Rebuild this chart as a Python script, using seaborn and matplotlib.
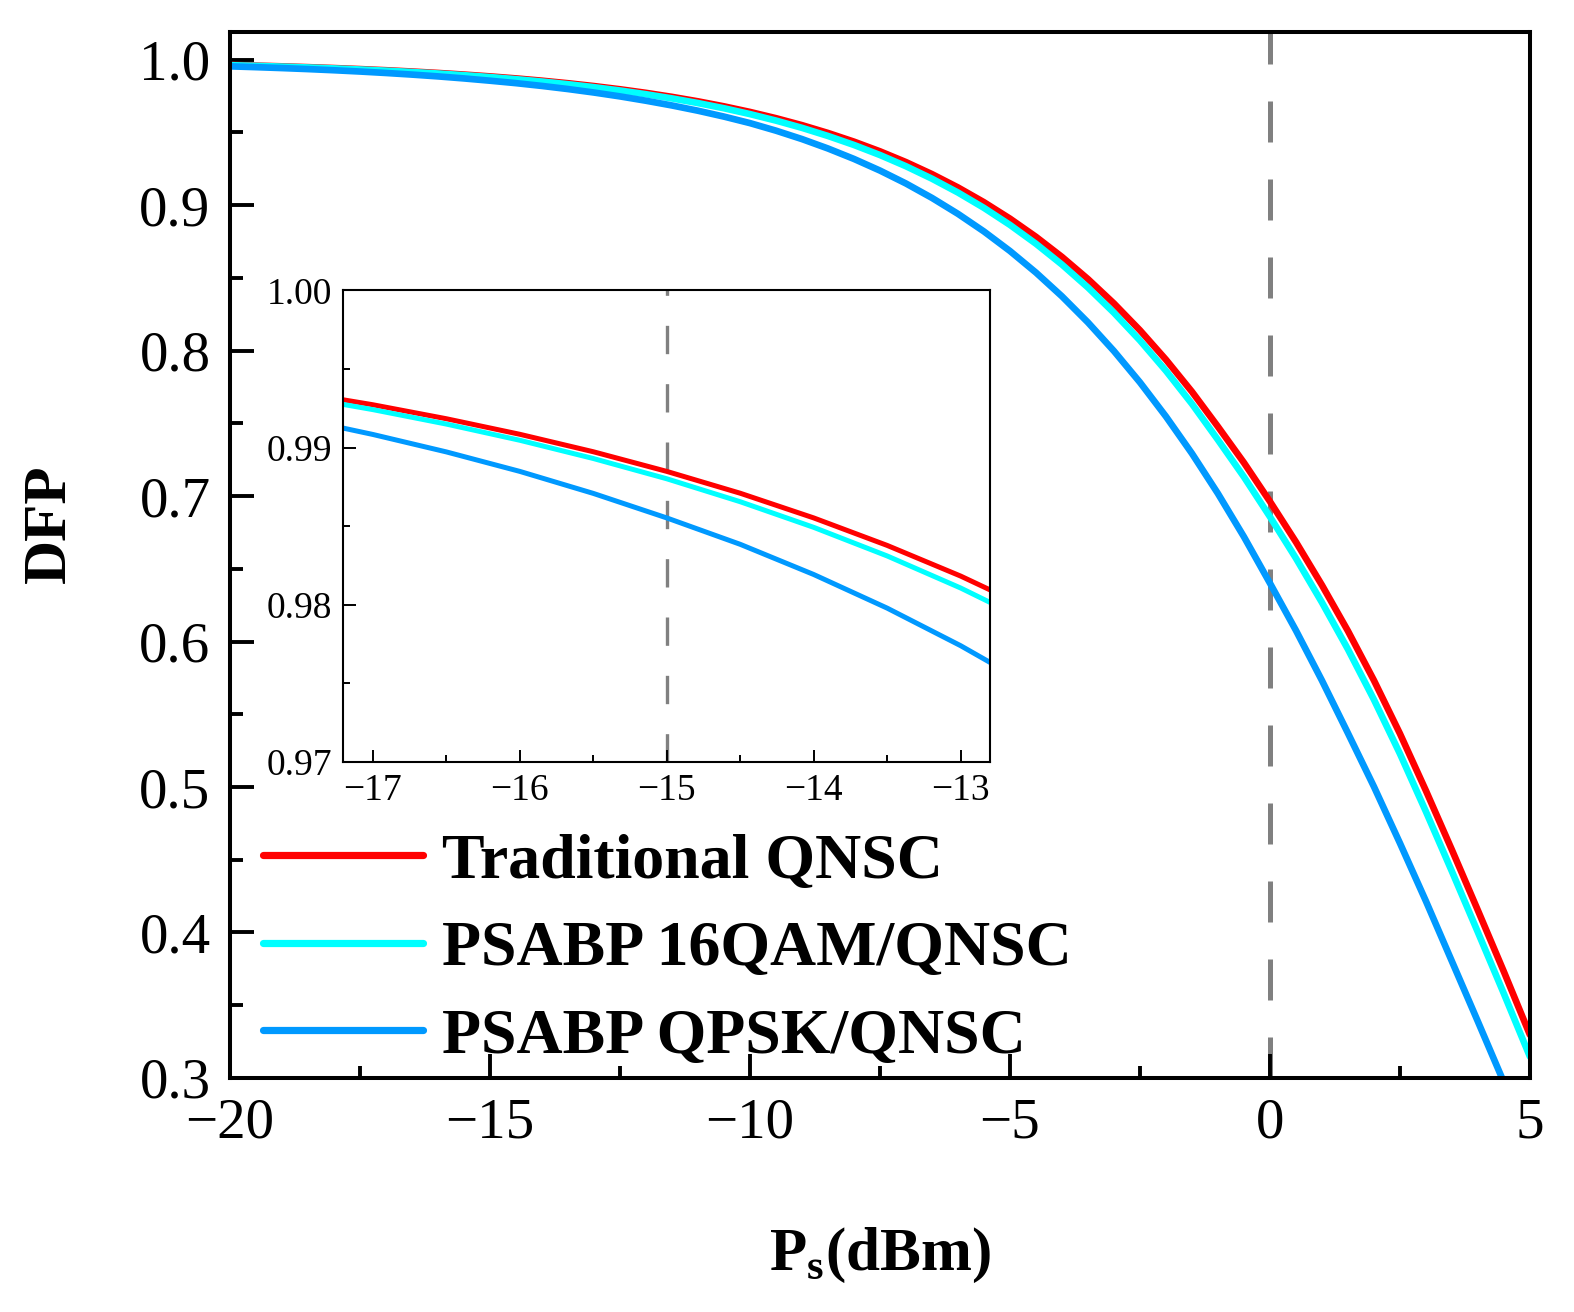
import numpy as np
import pandas as pd
import matplotlib
matplotlib.use("Agg")
import matplotlib.pyplot as plt
from matplotlib.ticker import MultipleLocator, FixedLocator
import seaborn as sns

# ---------------- data ----------------
ps_dbm = [-20.0, -19.5, -19.0, -18.5, -18.0, -17.5, -17.0, -16.5, -16.0, -15.5,
          -15.0, -14.5, -14.0, -13.5, -13.0, -12.5, -12.0, -11.5, -11.0, -10.5,
          -10.0, -9.5, -9.0, -8.5, -8.0, -7.5, -7.0, -6.5, -6.0, -5.5,
          -5.0, -4.5, -4.0, -3.5, -3.0, -2.5, -2.0, -1.5, -1.0, -0.5,
          0.0, 0.5, 1.0, 1.5, 2.0, 2.5, 3.0, 3.5, 4.0, 4.5, 5.0]

dfp_traditional = [0.99635, 0.99590, 0.99540, 0.99484, 0.99422, 0.99351, 0.99273, 0.99184, 0.99085, 0.98974,
                   0.98849, 0.98710, 0.98553, 0.98378, 0.98183, 0.97963, 0.97717, 0.97442, 0.97135, 0.96790,
                   0.96406, 0.95976, 0.95497, 0.94960, 0.94364, 0.93699, 0.92958, 0.92132, 0.91216, 0.90200,
                   0.89072, 0.87822, 0.86441, 0.84917, 0.83240, 0.81398, 0.79378, 0.77174, 0.74771, 0.72293,
                   0.69629, 0.66844, 0.63877, 0.60726, 0.57330, 0.53670, 0.49746, 0.45674, 0.41512, 0.37295, 0.32962]

dfp_16qam = [0.99619, 0.99573, 0.99521, 0.99463, 0.99397, 0.99324, 0.99242, 0.99150, 0.99047, 0.98931,
             0.98802, 0.98656, 0.98493, 0.98311, 0.98107, 0.97878, 0.97622, 0.97336, 0.97016, 0.96658,
             0.96258, 0.95811, 0.95312, 0.94754, 0.94135, 0.93444, 0.92673, 0.91816, 0.90865, 0.89810,
             0.88640, 0.87344, 0.85914, 0.84336, 0.82601, 0.80698, 0.78612, 0.76339, 0.73864, 0.71315,
             0.68578, 0.65724, 0.62686, 0.59469, 0.56006, 0.52286, 0.48308, 0.44195, 0.40008, 0.35783, 0.31461]

dfp_qpsk = [0.99540, 0.99484, 0.99421, 0.99351, 0.99272, 0.99184, 0.99084, 0.98973, 0.98849, 0.98709,
            0.98553, 0.98385, 0.98193, 0.97979, 0.97740, 0.97474, 0.97176, 0.96851, 0.96489, 0.96086,
            0.95638, 0.95119, 0.94540, 0.93893, 0.93175, 0.92376, 0.91487, 0.90496, 0.89401, 0.88189,
            0.86847, 0.85364, 0.83731, 0.81937, 0.79969, 0.77818, 0.75471, 0.72929, 0.70171, 0.67200,
            0.64014, 0.60763, 0.57321, 0.53701, 0.50024, 0.46142, 0.42153, 0.38013, 0.33871, 0.29684, 0.25593]

series_names = ["Traditional QNSC", "PSABP 16QAM/QNSC", "PSABP QPSK/QNSC"]
series_colors = ["#FF0000", "#00FFFF", "#0099FF"]

main_xticks = [-20, -15, -10, -5, 0, 5]
main_yticks = [0.3, 0.4, 0.5, 0.6, 0.7, 0.8, 0.9, 1.0]
inset_xticks = [-17, -16, -15, -14, -13]
inset_yticks = [0.97, 0.98, 0.99, 1.00]
main_marker_x = 0
inset_marker_x = -15

# ---------------- style ----------------
sns.set_style("ticks")
plt.rcParams["font.family"] = ["Liberation Serif", "DejaVu Serif"]
plt.rcParams["mathtext.fontset"] = "custom"
plt.rcParams["mathtext.rm"] = "Liberation Serif"
plt.rcParams["mathtext.bf"] = "Liberation Serif:bold"
plt.rcParams["axes.unicode_minus"] = True
for key in ["text.color", "axes.labelcolor", "xtick.color", "ytick.color",
            "axes.edgecolor"]:
    plt.rcParams[key] = "black"

df = pd.DataFrame({
    "P": ps_dbm * 3,
    "DFP": dfp_traditional + dfp_16qam + dfp_qpsk,
    "scheme": sum([[n] * len(ps_dbm) for n in series_names], []),
})

fig = plt.figure(figsize=(15.74, 13.12), dpi=100)
ax = fig.add_axes([0.1461, 0.1784, 0.8259, 0.7972])

sns.lineplot(data=df, x="P", y="DFP", hue="scheme", hue_order=series_names,
             palette=series_colors, linewidth=4.8, ax=ax, legend=False, sort=False)

ax.axvline(main_marker_x, color="#808080", lw=3.6, dashes=(8.2, 7.4), zorder=0.5)

ax.set_xlim(-20, 5)
ax.set_ylim(0.3, 1.019)
ax.xaxis.set_major_locator(FixedLocator(main_xticks))
ax.xaxis.set_minor_locator(MultipleLocator(2.5))
ax.yaxis.set_major_locator(FixedLocator(main_yticks))
ax.yaxis.set_minor_locator(MultipleLocator(0.05))
ax.set_xticklabels([f"{v}".replace("-", "\u2212") for v in main_xticks])
ax.set_yticklabels([f"{v:.1f}" for v in main_yticks])
ax.tick_params(axis="both", which="major", direction="in", length=17, width=2.8,
               labelsize=41, pad=14)
ax.tick_params(axis="both", which="minor", direction="in", length=9, width=2.8)
for s in ax.spines.values():
    s.set_linewidth(2.9)
    s.set_color("black")

ax.set_xlabel(r"P$_{\mathbf{s}}$(dBm)", fontsize=44, fontweight="bold")
ax.set_ylabel("DFP", fontsize=44, fontweight="bold")
ax.xaxis.set_label_coords(0.5, -0.141)
ax.yaxis.set_label_coords(-0.117, 0.53)

# legend
handles = [plt.Line2D([], [], color=c, lw=5.2) for c in series_colors]
leg = ax.legend(handles, series_names, loc="lower left", bbox_to_anchor=(-0.009, -0.032),
                frameon=False, prop={"size": 46, "weight": "bold"},
                handlelength=2.5, handletextpad=0.3, labelspacing=0.45, borderpad=0.2)

# ---------------- inset ----------------
axin = fig.add_axes([0.2182, 0.4192, 0.4108, 0.3594])
sns.lineplot(data=df, x="P", y="DFP", hue="scheme", hue_order=series_names,
             palette=series_colors, linewidth=3.6, ax=axin, legend=False, sort=False)
axin.axvline(inset_marker_x, color="#808080", lw=2.4, dashes=(8.5, 9.0), zorder=0.5)
axin.set_xlim(-17.2, -12.8)
axin.set_ylim(0.97, 1.00)
axin.xaxis.set_major_locator(FixedLocator(inset_xticks))
axin.xaxis.set_minor_locator(MultipleLocator(0.5))
axin.yaxis.set_major_locator(FixedLocator(inset_yticks))
axin.yaxis.set_minor_locator(MultipleLocator(0.005))
axin.set_xticklabels([f"{v}".replace("-", "\u2212") for v in inset_xticks])
axin.set_yticklabels([f"{v:.2f}" for v in inset_yticks])
axin.tick_params(axis="both", which="major", direction="in", length=9, width=1.4,
                 labelsize=27, pad=8)
axin.tick_params(axis="both", which="minor", direction="in", length=5, width=1.4)
axin.set_xlabel("")
axin.set_ylabel("")
for s in axin.spines.values():
    s.set_linewidth(1.5)
    s.set_color("black")

fig.savefig("out.png", dpi=100)
